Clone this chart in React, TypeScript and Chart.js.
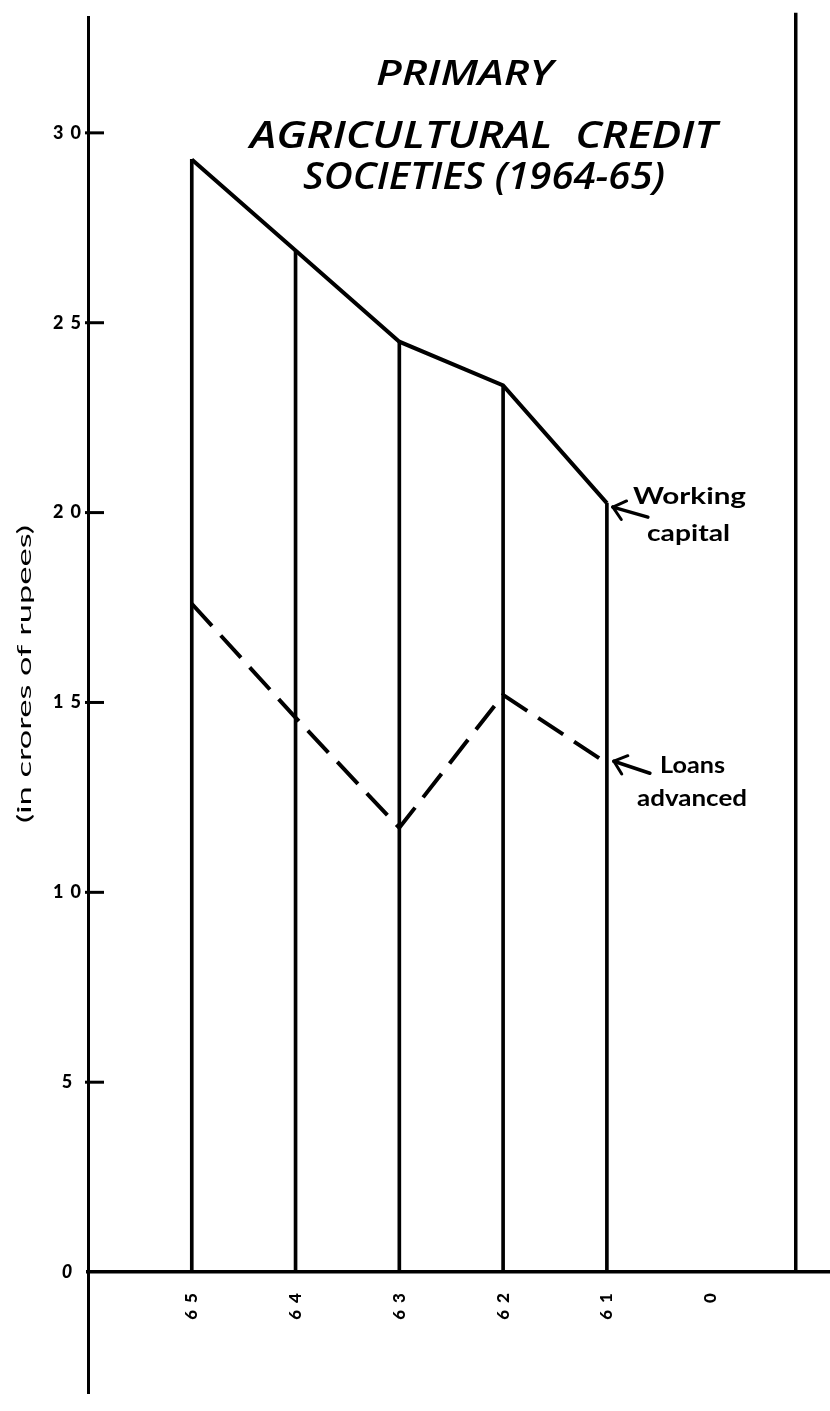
import React, { useEffect, useRef } from 'react';
import { Chart, registerables } from 'chart.js';

Chart.register(...registerables);

// ---- data ----
const categories = ['65', '64', '63', '62', '61', '0'];
const workingCapital = [29.3, 26.9, 24.5, 23.35, 20.25];
const loansAdvanced = [17.6, 14.6, 11.7, 15.2, 13.4];
const yTickValues = [0, 5, 10, 15, 20, 25, 30];
const titleLines = ['PRIMARY', 'AGRICULTURAL  CREDIT', 'SOCIETIES (1964-65)'];
const yAxisTitle = '(in crores of rupees)';
const workingLabel = ['Working', 'capital'];
const loansLabel = ['Loans', 'advanced'];

// ---- scale extents / layout ----
const X_MIN = 0;
const X_MAX = 7.15;
const Y_MIN = -3.19;
const Y_MAX = 33.03;
const FRAME_X = 6.82;

function fitText(
  ctx: CanvasRenderingContext2D,
  text: string,
  left: number,
  baseline: number,
  width: number,
  font: string
) {
  ctx.save();
  ctx.font = font;
  (ctx as any).letterSpacing = '0px';
  const w = ctx.measureText(text).width || 1;
  ctx.translate(left, baseline);
  ctx.scale(width / w, 1);
  ctx.textAlign = 'left';
  ctx.textBaseline = 'alphabetic';
  ctx.fillText(text, 0, 0);
  ctx.restore();
}

function seg(ctx: CanvasRenderingContext2D, x1: number, y1: number, x2: number, y2: number) {
  ctx.beginPath();
  ctx.moveTo(x1, y1);
  ctx.lineTo(x2, y2);
  ctx.stroke();
}

function arrow(ctx: CanvasRenderingContext2D, tx: number, ty: number, sx: number, sy: number) {
  ctx.lineWidth = 3.5;
  ctx.lineCap = 'round';
  seg(ctx, sx, sy, tx, ty);
  const ang = Math.atan2(sy - ty, sx - tx);
  const len = 15;
  const spread = (40 * Math.PI) / 180;
  ctx.lineWidth = 3;
  seg(ctx, tx, ty, tx + len * Math.cos(ang - spread), ty + len * Math.sin(ang - spread));
  seg(ctx, tx, ty, tx + len * Math.cos(ang + spread), ty + len * Math.sin(ang + spread));
}

const decorPlugin = {
  id: 'decor',
  beforeDraw(chart: any) {
    (chart.ctx as any).letterSpacing = '7px';
  },
  afterDatasetsDraw(chart: any) {
    const { ctx, chartArea, scales } = chart;
    const x = scales.x;
    const y = scales.y;
    ctx.save();
    (ctx as any).letterSpacing = '0px';
    ctx.strokeStyle = '#000';
    ctx.fillStyle = '#000';

    // right frame line
    const fx = x.getPixelForValue(FRAME_X);
    ctx.lineWidth = 3.5;
    ctx.lineCap = 'butt';
    seg(ctx, fx, chartArea.top - 5, fx, y.getPixelForValue(0));

    // inner tick marks on the value axis
    ctx.lineWidth = 3;
    yTickValues.forEach((v) => {
      if (v === 0) return;
      const py = y.getPixelForValue(v);
      seg(ctx, chartArea.left - 3, py, chartArea.left + 16, py);
    });

    // arrows pointing at the last points
    const n = workingCapital.length;
    const wx = x.getPixelForValue(n);
    const wy = y.getPixelForValue(workingCapital[n - 1]);
    arrow(ctx, wx + 6, wy + 4, wx + 41, wy + 14);
    const ly = y.getPixelForValue(loansAdvanced[n - 1]);
    arrow(ctx, wx + 7, ly - 2, wx + 43, ly + 10);

    // annotation texts
    const annFont = 'bold 22px Lato, "Open Sans", sans-serif';
    fitText(ctx, workingLabel[0], 633, 504, 113, annFont);
    fitText(ctx, workingLabel[1], 647, 541, 83, annFont);
    fitText(ctx, loansLabel[0], 660, 773, 65, annFont);
    fitText(ctx, loansLabel[1], 637, 806, 110, annFont);

    // title
    const tFont = (s: number) => `italic 600 ${s}px "Open Sans", Lato, sans-serif`;
    fitText(ctx, titleLines[0], 376, 85, 177, tFont(35));
    fitText(ctx, titleLines[1], 250, 148, 467, tFont(37));
    fitText(ctx, titleLines[2], 303, 189, 362, tFont(37));

    // rotated value-axis title
    ctx.save();
    ctx.translate(25, 823);
    ctx.rotate(-Math.PI / 2);
    ctx.font = '20px Lato, "Open Sans", sans-serif';
    const tw = ctx.measureText(yAxisTitle).width || 1;
    ctx.scale(298 / tw, 1);
    ctx.textAlign = 'left';
    ctx.textBaseline = 'middle';
    ctx.fillText(yAxisTitle, 0, 0);
    ctx.restore();

    ctx.restore();
  },
  afterDraw(chart: any) {
    (chart.ctx as any).letterSpacing = '0px';
  },
};

export default function App() {
  const ref = useRef<HTMLCanvasElement | null>(null);

  useEffect(() => {
    if (!ref.current) return;
    const chart = new Chart(ref.current, {
      type: 'line',
      data: {
        datasets: [
          {
            type: 'line',
            label: 'Working capital',
            data: workingCapital.map((v, i) => ({ x: i + 1, y: v })),
            borderColor: '#000',
            borderWidth: 4,
            borderJoinStyle: 'miter',
            pointRadius: 0,
            tension: 0,
            fill: false,
            order: 0,
          },
          {
            type: 'line',
            label: 'Loans advanced',
            data: loansAdvanced.map((v, i) => ({ x: i + 1, y: v })),
            borderColor: '#000',
            borderWidth: 4,
            borderDash: [30, 13],
            pointRadius: 0,
            tension: 0,
            fill: false,
            order: 1,
          },
          {
            type: 'bar',
            label: 'drop lines',
            data: workingCapital.map((v, i) => ({ x: i + 1, y: v })),
            backgroundColor: '#000',
            borderWidth: 0,
            barThickness: 3,
            order: 2,
          } as any,
        ],
      },
      options: {
        animation: false,
        responsive: false,
        events: [],
        layout: { padding: { top: 10, bottom: 3, left: 0, right: 0 } },
        plugins: {
          legend: { display: false },
          tooltip: { enabled: false },
          title: { display: false },
        },
        scales: {
          x: {
            type: 'linear',
            position: { y: 0 } as any,
            offset: false,
            min: X_MIN,
            max: X_MAX,
            grid: { display: false, drawTicks: false, offset: false },
            border: { display: true, color: '#000', width: 3.5 },
            afterBuildTicks: (s: any) => {
              s.ticks = categories.map((_, i) => ({ value: i + 1 }));
            },
            afterFit: (s: any) => {
              s.height = 0;
            },
            ticks: {
              autoSkip: false,
              minRotation: 90,
              maxRotation: 90,
              padding: 14,
              color: '#000',
              font: { family: 'Lato, "Open Sans", sans-serif', weight: 900, size: 17 },
              callback: (v: any) => categories[Number(v) - 1] ?? '',
            },
          },
          y: {
            type: 'linear',
            position: 'left',
            min: Y_MIN,
            max: Y_MAX,
            grid: { display: false, drawTicks: false },
            border: { display: true, color: '#000', width: 3 },
            afterBuildTicks: (s: any) => {
              s.ticks = yTickValues.map((v) => ({ value: v }));
            },
            afterFit: (s: any) => {
              s.width = 88;
            },
            ticks: {
              padding: 7,
              crossAlign: 'center',
              color: '#000',
              font: (c: any) => ({
                family: 'Lato, "Open Sans", sans-serif',
                weight: 900,
                size: 18,
                style: c.tick && c.tick.value === 0 ? 'italic' : 'normal',
              }),
              callback: (v: any) => String(v),
            },
          },
        },
      } as any,
      plugins: [decorPlugin as any],
    });
    return () => chart.destroy();
  }, []);

  return (
    <div style={{ position: 'absolute', left: 0, top: 0, width: 830, height: 1411, background: '#fff' }}>
      <canvas ref={ref} width={830} height={1411} style={{ display: 'block' }} />
    </div>
  );
}
